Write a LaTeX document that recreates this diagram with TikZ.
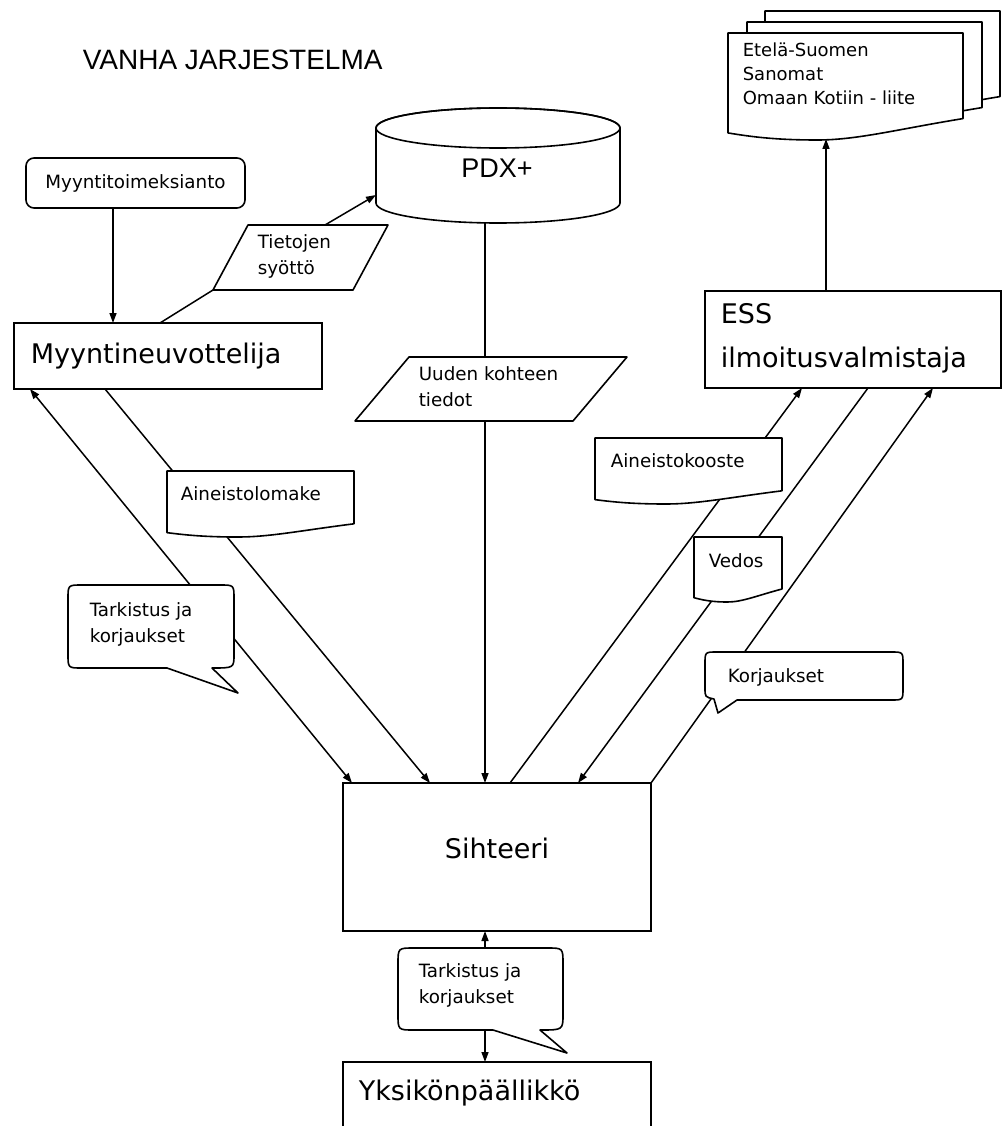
\documentclass[tikz,border=0pt]{standalone}
\usepackage{fontspec}
\usetikzlibrary{arrows.meta,backgrounds,calc}
\newfontfamily\dvfont{DejaVu Sans}
\newfontfamily\lbfont{Liberation Sans}
\tikzset{
  anchorbox/.style={draw=none, inner sep=0pt, outer sep=0pt, rectangle, anchor=north west},
  box/.style={draw, fill=white, line width=1.6pt, inner sep=0pt, outer sep=0pt, rectangle, anchor=north west},
  shapeline/.style={draw, fill=white, line width=1.6pt, line join=round},
  smalltext/.style={font=\dvfont\fontsize{18.3}{26}\selectfont, inner sep=0pt, align=left, anchor=base west},
  bigtext/.style={font=\dvfont\fontsize{27}{44}\selectfont, inner sep=0pt, align=left, anchor=base west},
  conn/.style={line width=1.5pt},
  arr/.style={conn, -{Triangle[length=10pt,width=7pt]}},
  darr/.style={conn, {Triangle[length=10pt,width=7pt]}-{Triangle[length=10pt,width=7pt]}},
}
% document shape: name, x1, y1, x2, h
\newcommand\docshape[5]{%
  \node[anchorbox, minimum width={#4-#2}, minimum height=#5] (#1) at (#2,#3) {};
  \path[shapeline] (#2,#3) -- (#4,#3) -- (#4,{#3+0.8*#5})
    .. controls ({#2+0.72*(#4-#2)},{#3+0.9*#5}) and ({#2+0.55*(#4-#2)},{#3+1.0*#5}) .. ({#2+0.38*(#4-#2)},{#3+1.0*#5})
    .. controls ({#2+0.2*(#4-#2)},{#3+1.0*#5}) and ({#2+0.1*(#4-#2)},{#3+0.97*#5}) .. (#2,{#3+0.934*#5}) -- cycle;
}
\begin{document}
\begin{tikzpicture}[x=1pt, y=-1pt, line width=1.6pt]
\useasboundingbox (0,0) rectangle (1003,1126);

% title
\node[font=\lbfont\fontsize{28}{30}\selectfont, anchor=base west, inner sep=0pt] (title) at (82,70) {VANHA JARJESTELMA};

% stacked documents
\docshape{pageC}{765}{11}{1000}{107}
\docshape{pageB}{747}{22}{982}{107}
\docshape{pageA}{728}{33}{963}{107}
\node[smalltext, font=\dvfont\fontsize{18}{24}\selectfont] (pageT) at (742,105) {Etelä-Suomen\\Sanomat\\Omaan Kotiin - liite};
\coordinate (docbot) at (826,139);

% PDX+ cylinder
\node[anchorbox, minimum width=244, minimum height=115] (pdx) at (376,108) {};
\path[shapeline] (376,128) -- (376,203) arc[start angle=180, end angle=0, x radius=122, y radius=20]
  -- (620,128) arc[start angle=0, end angle=-180, x radius=122, y radius=20] -- cycle;
\draw (498,128) ellipse [x radius=122, y radius=20];
\node[font=\lbfont\fontsize{27}{30}\selectfont, anchor=base, inner sep=0pt] (pdxT) at (497,178) {PDX+};

% Myyntitoimeksianto
\node[box, rounded corners=8pt, minimum width=219, minimum height=50,
      font=\dvfont\fontsize{18.3}{26}\selectfont] (mt) at (26,158) {Myyntitoimeksianto};

% Tietojen syotto parallelogram
\node[anchorbox, minimum width=175, minimum height=65] (tiet) at (213,225) {};
\path[shapeline] ([xshift=35pt]tiet.north west) -- (tiet.north east) -- ([xshift=-35pt]tiet.south east) -- (tiet.south west) -- cycle;
\node[smalltext] (tietT) at (257,274) {Tietojen\\syöttö};

% Myyntineuvottelija
\node[box, minimum width=308, minimum height=66] (mn) at (14,323) {};
\node[bigtext] (mnT) at (30,363) {Myyntineuvottelija};

% Uuden kohteen tiedot parallelogram
\node[anchorbox, minimum width=272, minimum height=64] (uud) at (355,357) {};
\path[shapeline] ([xshift=54pt]uud.north west) -- (uud.north east) -- ([xshift=-54pt]uud.south east) -- (uud.south west) -- cycle;
\node[smalltext] (uudT) at (418,406) {Uuden kohteen\\tiedot};

% ESS
\node[box, minimum width=296, minimum height=97] (ess) at (705,291) {};
\node[bigtext] (essT) at (720,367) {ESS\\ilmoitusvalmistaja};

% documents on the connectors
\docshape{alom}{167}{471}{354}{66}
\node[smalltext] (alomT) at (180,500) {Aineistolomake};
\docshape{akoo}{595}{438}{782}{66}
\node[smalltext] (akooT) at (610,467) {Aineistokooste};
\docshape{vedos}{694}{537}{782}{65}
\node[smalltext] (vedosT) at (708,567) {Vedos};

% callout left
\node[anchorbox, minimum width=166, minimum height=83] (cl1) at (68,585) {};
\path[shapeline] (82,585) -- (220,585) .. controls (234,585) .. (234,599) -- (234,654)
  .. controls (234,668) .. (212,668) -- (238,693) -- (167,668) -- (82,668)
  .. controls (68,668) .. (68,654) -- (68,599) .. controls (68,585) .. (82,585) -- cycle;
\node[smalltext] (cl1T) at (89,642) {Tarkistus ja\\korjaukset};

% callout Korjaukset
\node[anchorbox, minimum width=198, minimum height=48] (cl3) at (705,652) {};
\path[shapeline] (717,652) -- (891,652) .. controls (903,652) .. (903,664) -- (903,688)
  .. controls (903,700) .. (891,700) -- (737,700) -- (718,713) -- (714,699)
  .. controls (705,697) .. (705,688) -- (705,664) .. controls (705,652) .. (717,652) -- cycle;
\node[smalltext] (cl3T) at (727,682) {Korjaukset};

% Sihteeri
\node[box, minimum width=308, minimum height=148] (sih) at (343,783) {};
\node[font=\dvfont\fontsize{27}{30}\selectfont, anchor=base, inner sep=0pt] (sihT) at (497,858) {Sihteeri};

% callout bottom
\node[anchorbox, minimum width=165, minimum height=82] (cl2) at (398,948) {};
\path[shapeline] (414,948) -- (547,948) .. controls (563,948) .. (563,964) -- (563,1014)
  .. controls (563,1030) .. (540,1030) -- (567,1053) -- (493,1030) -- (414,1030)
  .. controls (398,1030) .. (398,1014) -- (398,964) .. controls (398,948) .. (414,948) -- cycle;
\node[smalltext] (cl2T) at (418,1003) {Tarkistus ja\\korjaukset};

% Yksikonpaallikko
\node[box, minimum width=308, minimum height=90] (yks) at (343,1062) {};
\node[bigtext] (yksT) at (358,1100) {Yksikönpäällikkö};

% connectors
\begin{scope}[on background layer]
  \draw[arr] ([xshift=-22.5pt]mt.south) -- ([xshift=-55pt]mn.north);
  \draw[conn] ([xshift=-8pt]mn.north) -- (tiet.south west);
  \draw[arr] ([xshift=112pt]tiet.north west) -- ([yshift=-29.5pt]pdx.west);
  \draw[arr] ([xshift=-13pt]pdx.south) -- ([xshift=-13pt]pdx.south |- sih.north);
  \draw[darr] ([xshift=16pt]mn.south west) -- ([xshift=9pt]sih.north west);
  \draw[arr] ([xshift=91pt]mn.south west) -- ([xshift=87pt]sih.north west);
  \draw[arr] ([xshift=167pt]sih.north west) -- ([xshift=97pt]ess.south west);
  \draw[arr] ([xshift=163pt]ess.south west) -- ([xshift=235pt]sih.north west);
  \draw[arr] (sih.north east) -- ([xshift=228pt]ess.south west);
  \draw[darr] ([xshift=-12pt]sih.south) -- ([xshift=-12pt]yks.north);
  \draw[arr] ([xshift=-27pt]ess.north) -- (docbot);
\end{scope}
\end{tikzpicture}
\end{document}
